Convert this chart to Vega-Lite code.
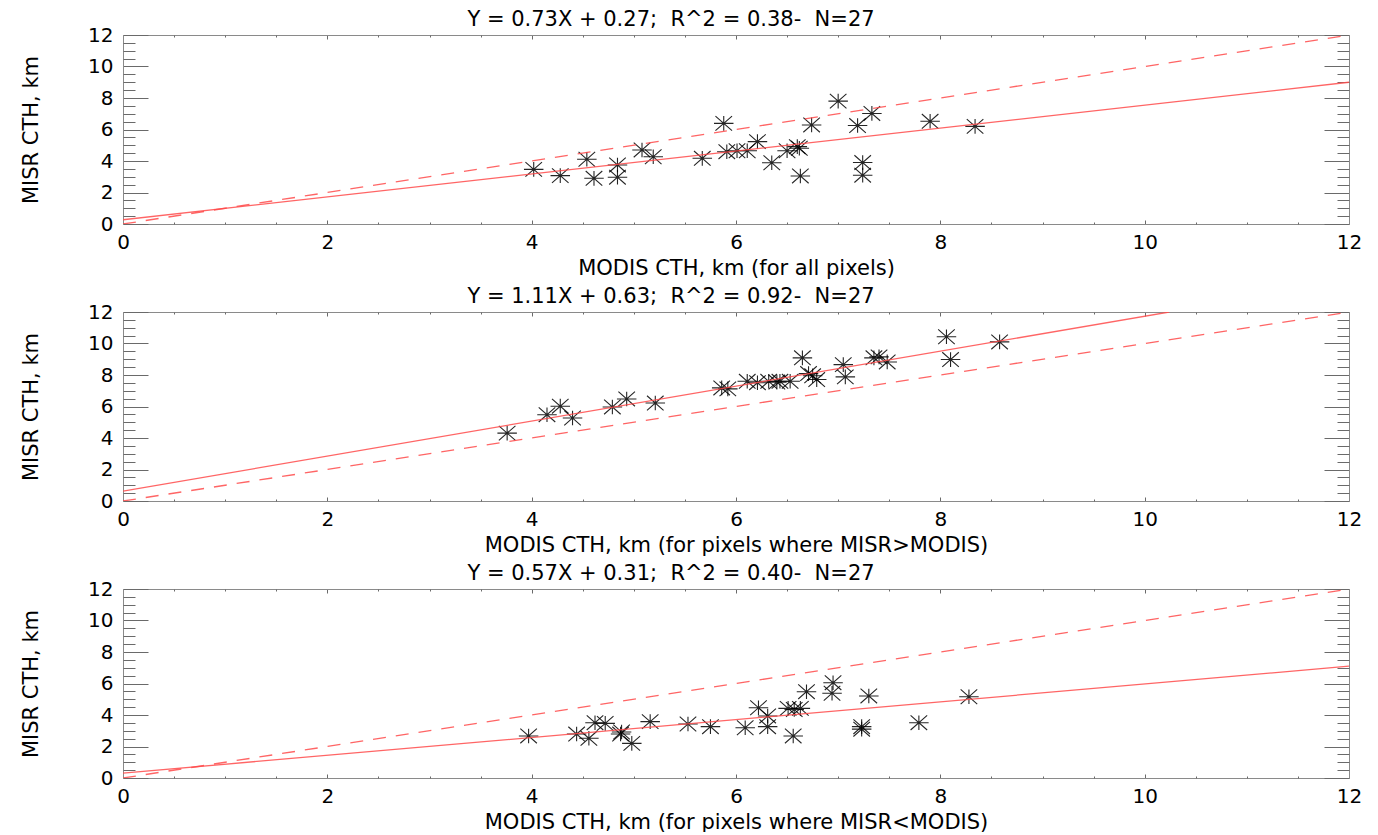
{
  "$schema": "https://vega.github.io/schema/vega-lite/v6.json",
  "background": "white",
  "padding": {"left": 19, "top": 9, "right": 20, "bottom": 0},
  "spacing": 8,
  "config": {
    "view": {"stroke": null},
    "font": "DejaVu Sans",
    "axis": {
      "grid": false,
      "domainColor": "#8a8a8a",
      "domainWidth": 1,
      "tickColor": "#6a6a6a",
      "tickWidth": 1,
      "labelFont": "DejaVu Sans",
      "labelFontSize": 20,
      "labelColor": "#000",
      "titleFont": "DejaVu Sans",
      "titleFontSize": 21,
      "titleFontWeight": "normal",
      "titleColor": "#000",
      "labelOverlap": false,
      "labelFlush": false,
      "labelBound": false,
      "format": "d"
    },
    "title": {"font": "DejaVu Sans", "fontSize": 21, "fontWeight": "normal", "color": "#000", "anchor": "middle", "frame": "group", "offset": -5, "dx": -65}
  },
  "datasets": {
    "pts1": [
      {"modis": 4.02, "misr": 3.47}, {"modis": 4.28, "misr": 3.07}, {"modis": 4.54, "misr": 4.11},
      {"modis": 4.61, "misr": 2.90}, {"modis": 4.84, "misr": 3.75}, {"modis": 4.84, "misr": 2.97},
      {"modis": 5.08, "misr": 4.70}, {"modis": 5.19, "misr": 4.27}, {"modis": 5.67, "misr": 4.17},
      {"modis": 5.88, "misr": 6.39}, {"modis": 5.91, "misr": 4.59}, {"modis": 6.01, "misr": 4.65},
      {"modis": 6.11, "misr": 4.65}, {"modis": 6.21, "misr": 5.23}, {"modis": 6.35, "misr": 3.89},
      {"modis": 6.50, "misr": 4.65}, {"modis": 6.60, "misr": 4.91}, {"modis": 6.62, "misr": 4.81},
      {"modis": 6.63, "misr": 3.05}, {"modis": 6.74, "misr": 6.29}, {"modis": 7.00, "misr": 7.80},
      {"modis": 7.19, "misr": 6.25}, {"modis": 7.24, "misr": 3.90}, {"modis": 7.24, "misr": 3.10},
      {"modis": 7.33, "misr": 7.02}, {"modis": 7.90, "misr": 6.52}, {"modis": 8.34, "misr": 6.20}
    ],
    "pts2": [
      {"modis": 3.76, "misr": 4.31}, {"modis": 4.15, "misr": 5.48}, {"modis": 4.28, "misr": 6.02},
      {"modis": 4.40, "misr": 5.27}, {"modis": 4.79, "misr": 5.97}, {"modis": 4.93, "misr": 6.48},
      {"modis": 5.21, "misr": 6.22}, {"modis": 5.86, "misr": 7.18}, {"modis": 5.92, "misr": 7.12},
      {"modis": 6.11, "misr": 7.60}, {"modis": 6.21, "misr": 7.51}, {"modis": 6.32, "misr": 7.60},
      {"modis": 6.43, "misr": 7.60}, {"modis": 6.53, "misr": 7.60}, {"modis": 6.40, "misr": 7.55},
      {"modis": 6.65, "misr": 9.09}, {"modis": 6.71, "misr": 8.09}, {"modis": 6.79, "misr": 7.71},
      {"modis": 6.75, "misr": 7.95}, {"modis": 7.05, "misr": 8.66}, {"modis": 7.07, "misr": 7.88},
      {"modis": 7.35, "misr": 9.09}, {"modis": 7.40, "misr": 9.15}, {"modis": 7.48, "misr": 8.83},
      {"modis": 8.06, "misr": 10.43}, {"modis": 8.10, "misr": 8.98}, {"modis": 8.58, "misr": 10.10}
    ],
    "pts3": [
      {"modis": 3.97, "misr": 2.67}, {"modis": 4.44, "misr": 2.79}, {"modis": 4.56, "misr": 2.52},
      {"modis": 4.62, "misr": 3.51}, {"modis": 4.72, "misr": 3.47}, {"modis": 4.87, "misr": 2.79},
      {"modis": 4.88, "misr": 2.92}, {"modis": 4.98, "misr": 2.20}, {"modis": 5.16, "misr": 3.58},
      {"modis": 5.53, "misr": 3.43}, {"modis": 5.75, "misr": 3.26}, {"modis": 6.09, "misr": 3.19},
      {"modis": 6.22, "misr": 4.46}, {"modis": 6.31, "misr": 3.94}, {"modis": 6.31, "misr": 3.26},
      {"modis": 6.51, "misr": 4.42}, {"modis": 6.63, "misr": 4.42}, {"modis": 6.57, "misr": 4.35},
      {"modis": 6.56, "misr": 2.67}, {"modis": 6.69, "misr": 5.48}, {"modis": 6.94, "misr": 5.38},
      {"modis": 6.95, "misr": 6.05}, {"modis": 7.30, "misr": 5.21}, {"modis": 7.23, "misr": 3.26},
      {"modis": 7.23, "misr": 3.10}, {"modis": 7.79, "misr": 3.51}, {"modis": 8.28, "misr": 5.16}
    ],
    "fit1": [{"modis": 0, "misr": 0.27}, {"modis": 12, "misr": 9.0}],
    "fit2": [{"modis": 0, "misr": 0.63}, {"modis": 10.24, "misr": 12}],
    "fit3": [{"modis": 0, "misr": 0.31}, {"modis": 12, "misr": 7.1}],
    "one": [{"modis": 0, "misr": 0}, {"modis": 12, "misr": 12}]
  },
  "vconcat": [
    {
      "title": "Y = 0.73X + 0.27;\u00a0\u00a0R^2 = 0.38-\u00a0\u00a0N=27",
      "width": 1226, "height": 189,
      "resolve": {"axis": {"x": "independent", "y": "independent"}},
      "layer": [
        {
          "data": {"name": "pts1"},
          "mark": {"type": "point", "shape": "M-1,0L1,0M-0.85,-0.75L0.85,0.75M-0.85,0.75L0.85,-0.75M0,-0.75L0,0.75", "size": 380, "filled": false, "stroke": "#000", "strokeWidth": 1.1, "opacity": 0.85},
          "encoding": {
            "x": {"field": "modis", "type": "quantitative", "scale": {"domain": [0, 12], "nice": false, "zero": false},
              "axis": {"orient": "bottom", "title": "MODIS CTH, km (for all pixels)", "values": [0,2,4,6,8,10,12], "tickSize": -4, "labelPadding": 12, "titleY": 44, "titleBaseline": "middle"}},
            "y": {"field": "misr", "type": "quantitative", "scale": {"domain": [0, 12], "nice": false, "zero": false},
              "axis": {"orient": "left", "title": "MISR CTH, km", "values": [0,2,4,6,8,10,12], "tickSize": -25, "labelPadding": 35, "titleX": -92, "titleY": 94.5, "titleAngle": -90, "titleBaseline": "middle", "titleAlign": "center"}}
          }
        },
        {
          "data": {"name": "fit1"},
          "mark": {"type": "line", "color": "#ff4a4a", "strokeWidth": 1.3, "opacity": 0.85, "clip": true},
          "encoding": {
            "x": {"field": "modis", "type": "quantitative", "axis": {"orient": "top", "title": null, "labels": false, "values": [0,2,4,6,8,10,12], "tickSize": -4}},
            "y": {"field": "misr", "type": "quantitative", "axis": {"orient": "right", "title": null, "labels": false, "values": [0,2,4,6,8,10,12], "tickSize": -25}}
          }
        },
        {
          "data": {"name": "one"},
          "mark": {"type": "line", "color": "#ff4a4a", "strokeWidth": 1.3, "opacity": 0.85, "strokeDash": [13, 10], "clip": true},
          "encoding": {
            "x": {"field": "modis", "type": "quantitative", "axis": {"orient": "bottom", "title": null, "labels": false, "domain": false, "values": [0.5,1,1.5,2.5,3,3.5,4.5,5,5.5,6.5,7,7.5,8.5,9,9.5,10.5,11,11.5], "tickSize": -2}},
            "y": {"field": "misr", "type": "quantitative", "axis": {"orient": "left", "title": null, "labels": false, "domain": false, "values": [0.5,1,1.5,2.5,3,3.5,4.5,5,5.5,6.5,7,7.5,8.5,9,9.5,10.5,11,11.5], "tickSize": -12}}
          }
        },
        {
          "data": {"name": "one"},
          "mark": {"type": "line", "opacity": 0, "clip": true},
          "encoding": {
            "x": {"field": "modis", "type": "quantitative", "axis": {"orient": "top", "title": null, "labels": false, "domain": false, "values": [0.5,1,1.5,2.5,3,3.5,4.5,5,5.5,6.5,7,7.5,8.5,9,9.5,10.5,11,11.5], "tickSize": -2}},
            "y": {"field": "misr", "type": "quantitative", "axis": {"orient": "right", "title": null, "labels": false, "domain": false, "values": [0.5,1,1.5,2.5,3,3.5,4.5,5,5.5,6.5,7,7.5,8.5,9,9.5,10.5,11,11.5], "tickSize": -12}}
          }
        }
      ]
    },
    {
      "title": "Y = 1.11X + 0.63;\u00a0\u00a0R^2 = 0.92-\u00a0\u00a0N=27",
      "width": 1226, "height": 189,
      "resolve": {"axis": {"x": "independent", "y": "independent"}},
      "layer": [
        {
          "data": {"name": "pts2"},
          "mark": {"type": "point", "shape": "M-1,0L1,0M-0.85,-0.75L0.85,0.75M-0.85,0.75L0.85,-0.75M0,-0.75L0,0.75", "size": 380, "filled": false, "stroke": "#000", "strokeWidth": 1.1, "opacity": 0.85},
          "encoding": {
            "x": {"field": "modis", "type": "quantitative", "scale": {"domain": [0, 12], "nice": false, "zero": false},
              "axis": {"orient": "bottom", "title": "MODIS CTH, km (for pixels where MISR>MODIS)", "values": [0,2,4,6,8,10,12], "tickSize": -4, "labelPadding": 12, "titleY": 44, "titleBaseline": "middle"}},
            "y": {"field": "misr", "type": "quantitative", "scale": {"domain": [0, 12], "nice": false, "zero": false},
              "axis": {"orient": "left", "title": "MISR CTH, km", "values": [0,2,4,6,8,10,12], "tickSize": -25, "labelPadding": 35, "titleX": -92, "titleY": 94.5, "titleAngle": -90, "titleBaseline": "middle", "titleAlign": "center"}}
          }
        },
        {
          "data": {"name": "fit2"},
          "mark": {"type": "line", "color": "#ff4a4a", "strokeWidth": 1.3, "opacity": 0.85, "clip": true},
          "encoding": {
            "x": {"field": "modis", "type": "quantitative", "axis": {"orient": "top", "title": null, "labels": false, "values": [0,2,4,6,8,10,12], "tickSize": -4}},
            "y": {"field": "misr", "type": "quantitative", "axis": {"orient": "right", "title": null, "labels": false, "values": [0,2,4,6,8,10,12], "tickSize": -25}}
          }
        },
        {
          "data": {"name": "one"},
          "mark": {"type": "line", "color": "#ff4a4a", "strokeWidth": 1.3, "opacity": 0.85, "strokeDash": [13, 10], "clip": true},
          "encoding": {
            "x": {"field": "modis", "type": "quantitative", "axis": {"orient": "bottom", "title": null, "labels": false, "domain": false, "values": [0.5,1,1.5,2.5,3,3.5,4.5,5,5.5,6.5,7,7.5,8.5,9,9.5,10.5,11,11.5], "tickSize": -2}},
            "y": {"field": "misr", "type": "quantitative", "axis": {"orient": "left", "title": null, "labels": false, "domain": false, "values": [0.5,1,1.5,2.5,3,3.5,4.5,5,5.5,6.5,7,7.5,8.5,9,9.5,10.5,11,11.5], "tickSize": -12}}
          }
        },
        {
          "data": {"name": "one"},
          "mark": {"type": "line", "opacity": 0, "clip": true},
          "encoding": {
            "x": {"field": "modis", "type": "quantitative", "axis": {"orient": "top", "title": null, "labels": false, "domain": false, "values": [0.5,1,1.5,2.5,3,3.5,4.5,5,5.5,6.5,7,7.5,8.5,9,9.5,10.5,11,11.5], "tickSize": -2}},
            "y": {"field": "misr", "type": "quantitative", "axis": {"orient": "right", "title": null, "labels": false, "domain": false, "values": [0.5,1,1.5,2.5,3,3.5,4.5,5,5.5,6.5,7,7.5,8.5,9,9.5,10.5,11,11.5], "tickSize": -12}}
          }
        }
      ]
    },
    {
      "title": "Y = 0.57X + 0.31;\u00a0\u00a0R^2 = 0.40-\u00a0\u00a0N=27",
      "width": 1226, "height": 189,
      "resolve": {"axis": {"x": "independent", "y": "independent"}},
      "layer": [
        {
          "data": {"name": "pts3"},
          "mark": {"type": "point", "shape": "M-1,0L1,0M-0.85,-0.75L0.85,0.75M-0.85,0.75L0.85,-0.75M0,-0.75L0,0.75", "size": 380, "filled": false, "stroke": "#000", "strokeWidth": 1.1, "opacity": 0.85},
          "encoding": {
            "x": {"field": "modis", "type": "quantitative", "scale": {"domain": [0, 12], "nice": false, "zero": false},
              "axis": {"orient": "bottom", "title": "MODIS CTH, km (for pixels where MISR<MODIS)", "values": [0,2,4,6,8,10,12], "tickSize": -4, "labelPadding": 12, "titleY": 44, "titleBaseline": "middle"}},
            "y": {"field": "misr", "type": "quantitative", "scale": {"domain": [0, 12], "nice": false, "zero": false},
              "axis": {"orient": "left", "title": "MISR CTH, km", "values": [0,2,4,6,8,10,12], "tickSize": -25, "labelPadding": 35, "titleX": -92, "titleY": 94.5, "titleAngle": -90, "titleBaseline": "middle", "titleAlign": "center"}}
          }
        },
        {
          "data": {"name": "fit3"},
          "mark": {"type": "line", "color": "#ff4a4a", "strokeWidth": 1.3, "opacity": 0.85, "clip": true},
          "encoding": {
            "x": {"field": "modis", "type": "quantitative", "axis": {"orient": "top", "title": null, "labels": false, "values": [0,2,4,6,8,10,12], "tickSize": -4}},
            "y": {"field": "misr", "type": "quantitative", "axis": {"orient": "right", "title": null, "labels": false, "values": [0,2,4,6,8,10,12], "tickSize": -25}}
          }
        },
        {
          "data": {"name": "one"},
          "mark": {"type": "line", "color": "#ff4a4a", "strokeWidth": 1.3, "opacity": 0.85, "strokeDash": [13, 10], "clip": true},
          "encoding": {
            "x": {"field": "modis", "type": "quantitative", "axis": {"orient": "bottom", "title": null, "labels": false, "domain": false, "values": [0.5,1,1.5,2.5,3,3.5,4.5,5,5.5,6.5,7,7.5,8.5,9,9.5,10.5,11,11.5], "tickSize": -2}},
            "y": {"field": "misr", "type": "quantitative", "axis": {"orient": "left", "title": null, "labels": false, "domain": false, "values": [0.5,1,1.5,2.5,3,3.5,4.5,5,5.5,6.5,7,7.5,8.5,9,9.5,10.5,11,11.5], "tickSize": -12}}
          }
        },
        {
          "data": {"name": "one"},
          "mark": {"type": "line", "opacity": 0, "clip": true},
          "encoding": {
            "x": {"field": "modis", "type": "quantitative", "axis": {"orient": "top", "title": null, "labels": false, "domain": false, "values": [0.5,1,1.5,2.5,3,3.5,4.5,5,5.5,6.5,7,7.5,8.5,9,9.5,10.5,11,11.5], "tickSize": -2}},
            "y": {"field": "misr", "type": "quantitative", "axis": {"orient": "right", "title": null, "labels": false, "domain": false, "values": [0.5,1,1.5,2.5,3,3.5,4.5,5,5.5,6.5,7,7.5,8.5,9,9.5,10.5,11,11.5], "tickSize": -12}}
          }
        }
      ]
    }
  ]
}
